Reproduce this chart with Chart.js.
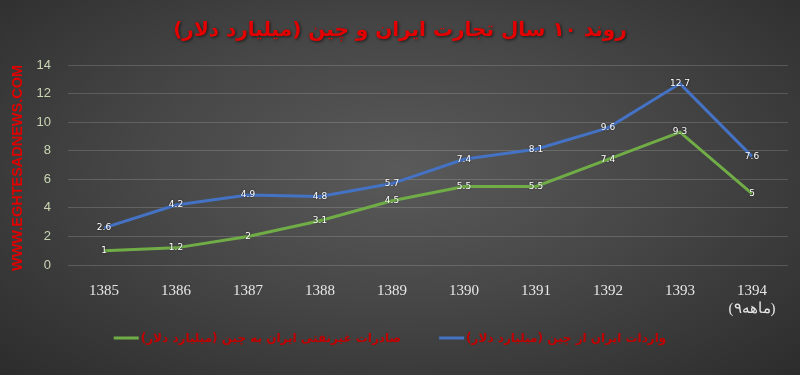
<!DOCTYPE html>
<html>
<head>
<meta charset="utf-8">
<script src="https://cdn.jsdelivr.net/npm/chart.js@4"></script>
<style>
  html, body { margin: 0; padding: 0; }
  body { width: 800px; height: 375px; overflow: hidden;
    background: radial-gradient(ellipse at 50% 45%, #5a5a5a 0%, #474747 45%, #2c2c2c 100%); }
  #wrap { width: 800px; height: 375px; position: relative; }
</style>
</head>
<body>
<div id="wrap"><canvas id="chart" width="800" height="375"></canvas></div>
<script>
// datos
const years = ['1385', '1386', '1387', '1388', '1389', '1390', '1391', '1392', '1393', ['1394', '\u200E(۹ماهه)']];
const exportsToChina = [1, 1.2, 2, 3.1, 4.5, 5.5, 5.5, 7.4, 9.3, 5];
const importsFromChina = [2.6, 4.2, 4.9, 4.8, 5.7, 7.4, 8.1, 9.6, 12.7, 7.6];
const yTicks = [0, 2, 4, 6, 8, 10, 12, 14];

const titleText = 'روند ۱۰ سال تجارت ایران و چین (میلیارد دلار)';
const exportsLabel = 'صادرات غیرنفتی ایران به چین (میلیارد دلار)';
const importsLabel = 'واردات ایران از چین (میلیارد دلار)';

// Titulo, marca de agua, leyenda y etiquetas de valores
const decorPlugin = {
  id: 'decor',
  afterDraw(chart) {
    const ctx = chart.ctx;
    ctx.save();
    // titulo
    ctx.font = 'bold 20px "DejaVu Sans"';
    ctx.direction = 'rtl';
    ctx.textAlign = 'center';
    ctx.textBaseline = 'middle';
    ctx.shadowColor = 'rgba(0,0,0,0.6)';
    ctx.shadowBlur = 3;
    ctx.shadowOffsetX = 1;
    ctx.shadowOffsetY = 1;
    ctx.fillStyle = '#e30000';
    ctx.fillText(titleText, 400, 31);
    ctx.restore();

    // marca de agua vertical
    ctx.save();
    ctx.translate(18, 168);
    ctx.rotate(-Math.PI / 2);
    ctx.font = 'bold 15px "Liberation Sans"';
    ctx.textAlign = 'center';
    ctx.textBaseline = 'middle';
    ctx.fillStyle = '#e00000';
    ctx.fillText('WWW.EGHTESADNEWS.COM', 0, 0, 206);
    ctx.restore();

    // leyenda (muestra de linea a la izquierda del texto)
    ctx.save();
    ctx.font = 'bold 12px "DejaVu Sans"';
    ctx.direction = 'rtl';
    ctx.textBaseline = 'middle';
    ctx.textAlign = 'left';
    const boxW = 25, boxGap = 2, itemGap = 38, legendY = 338;
    const items = chart.data.datasets.map(ds => ({
      color: ds.borderColor, text: ds.label, w: ctx.measureText(ds.label).width
    }));
    const total = items.reduce((a, it) => a + boxW + boxGap + it.w, 0) + itemGap * (items.length - 1);
    let x = 390 - total / 2;
    items.forEach(it => {
      ctx.fillStyle = it.color;
      ctx.fillRect(x, legendY - 1.5, boxW, 3);
      x += boxW + boxGap;
      ctx.fillStyle = '#c00000';
      ctx.fillText(it.text, x, legendY + 1);
      x += it.w + itemGap;
    });
    ctx.restore();

    // etiquetas sobre los puntos
    ctx.save();
    ctx.font = '9px "DejaVu Sans"';
    ctx.textAlign = 'center';
    ctx.textBaseline = 'middle';
    ctx.fillStyle = '#ffffff';
    ctx.shadowColor = 'rgba(0,0,0,0.7)';
    ctx.shadowBlur = 2;
    chart.data.datasets.forEach((ds, i) => {
      chart.getDatasetMeta(i).data.forEach((pt, j) => {
        ctx.fillText(String(ds.data[j]), pt.x, pt.y);
      });
    });
    ctx.restore();
  }
};

const ctx = document.getElementById('chart').getContext('2d');
new Chart(ctx, {
  type: 'line',
  data: {
    labels: years,
    datasets: [{
      label: exportsLabel,
      data: exportsToChina,
      borderColor: '#70ad47',
      backgroundColor: '#70ad47',
      borderWidth: 3,
      pointRadius: 0,
      tension: 0
    }, {
      label: importsLabel,
      data: importsFromChina,
      borderColor: '#4472c4',
      backgroundColor: '#4472c4',
      borderWidth: 3,
      pointRadius: 0,
      tension: 0
    }]
  },
  options: {
    responsive: false,
    animation: false,
    layout: { padding: { top: 65, right: 12, bottom: 0, left: 0 } },
    scales: {
      x: {
        offset: true,
        afterFit: (axis) => { axis.height = 110; },
        grid: { display: false },
        border: { display: false },
        ticks: {
          color: '#e6e6e6',
          font: { family: '"Liberation Serif"', size: 15 },
          padding: 9,
          maxRotation: 0
        }
      },
      y: {
        min: 0,
        max: 14,
        afterBuildTicks: (axis) => { axis.ticks = yTicks.map(v => ({ value: v })); },
        afterFit: (axis) => { axis.width = 68; },
        grid: { color: 'rgba(255,255,255,0.16)', drawTicks: false },
        border: { display: false },
        ticks: {
          color: '#c9d6b4',
          font: { family: '"Liberation Sans"', size: 13 },
          padding: 17
        }
      }
    },
    plugins: {
      legend: { display: false },
      tooltip: { enabled: false }
    }
  },
  plugins: [decorPlugin]
});
</script>
</body>
</html>
